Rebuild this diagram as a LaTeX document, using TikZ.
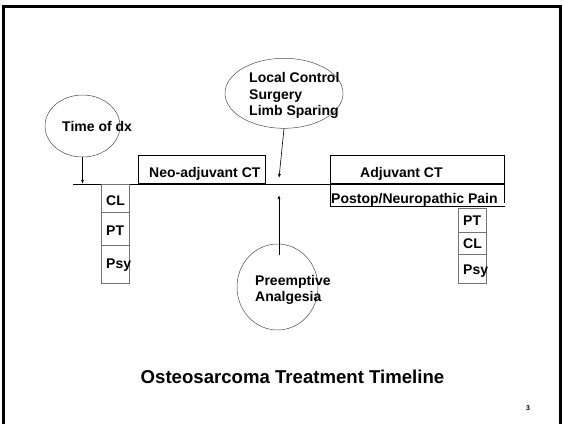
\documentclass[tikz,border=0pt]{standalone}
\usepackage{fontspec}
\setmainfont{Liberation Sans}
\usetikzlibrary{shapes.geometric, arrows.meta}

\tikzset{
  bubble/.style={draw=black!70, line width=0.5pt, ellipse, inner sep=0pt},
  bar/.style={draw, line width=0.8pt, rectangle, inner sep=0pt},
  cell/.style={draw=black!55, line width=0.8pt, rectangle, inner sep=0pt, minimum width=28pt},
  lbl/.style={font=\fontsize{14}{16.5}\selectfont\bfseries, inner sep=0pt, anchor=base west, align=left},
  pointer/.style={-{Latex[length=4pt,width=3pt]}, line width=0.6pt}
}

\begin{document}
\begin{tikzpicture}[x=1pt, y=-1pt]
  \useasboundingbox (0,0) rectangle (564,424);
  % Slide frame, open at the bottom
  \draw[line width=3pt] (3,424) -- (3,6.5) -- (560.5,6.5) -- (560.5,424);
  % Timeline
  \draw[line width=0.8pt] (73,184) -- (505,184);
  % Treatment phases
  \node[bar, minimum width=127pt, minimum height=28pt, anchor=south west] (neo) at (138,184) {};
  \node[lbl] (neotext) at (149,177) {Neo-adjuvant CT};
  \node[bar, minimum width=174pt, minimum height=28pt, anchor=south west] (adj) at (330,184) {};
  \node[lbl] (adjtext) at (360,177) {Adjuvant CT};
  \draw[line width=0.8pt] (330,184) -- (330,206) -- (505,206);
  \draw[line width=0.8pt] (504,184) -- (504,203);
  \node[lbl] (paintext) at (331,203) {Postop/Neuropathic Pain};
  % Time of diagnosis
  \node[bubble, minimum width=75pt, minimum height=62pt] (dx) at (82.5,126) {};
  \node[lbl] (dxtext) at (62,131.5) {Time of dx};
  \coordinate (dxend) at (82.5,184);
  \draw[pointer] (dx.south) -- (dxend);
  % Local control (base anchor sits on the last line)
  \node[bubble, minimum width=118pt, minimum height=70pt] (lc) at (284,93.3) {};
  \node[lbl] (lctext) at (249,115.7) {Local Control\\Surgery\\Limb Sparing};
  \coordinate (lcend) at (279,178);
  \draw[pointer] (lc.south) -- (lcend);
  % Preemptive analgesia
  \node[bubble, minimum width=81pt, minimum height=86pt] (pa) at (277.5,287) {};
  \node[lbl] (patext) at (255,301.7) {Preemptive\\Analgesia};
  \coordinate (pastart) at (279,255);
  \coordinate (paend) at (279,195);
  \draw[pointer] (pastart) -- (paend);
  % Support services
  \foreach \ya/\hh/\yb/\txt [count=\i] in {184/28/205/CL, 212/33/235/PT, 245/38/268/Psy}{
    \node[cell, minimum height=\hh pt, anchor=north west] (lcell\i) at (101,\ya) {};
    \node[lbl] (ltext\i) at (106,\yb) {\txt};
  }
  \foreach \ya/\hh/\yb/\txt [count=\i] in {208/24/225/PT, 232/22/248/CL, 254/29/274/Psy}{
    \node[cell, minimum height=\hh pt, anchor=north west] (rcell\i) at (457.5,\ya) {};
    \node[lbl] (rtext\i) at (463,\yb) {\txt};
  }
  % Title
  \node[font=\fontsize{18.6}{22}\selectfont\bfseries, anchor=base, inner sep=0pt] (title) at (292.5,383) {Osteosarcoma Treatment Timeline};
  \node[font=\fontsize{7}{8}\selectfont\bfseries, anchor=base, inner sep=0pt] (pnum) at (528,410) {3};
\end{tikzpicture}
\end{document}
